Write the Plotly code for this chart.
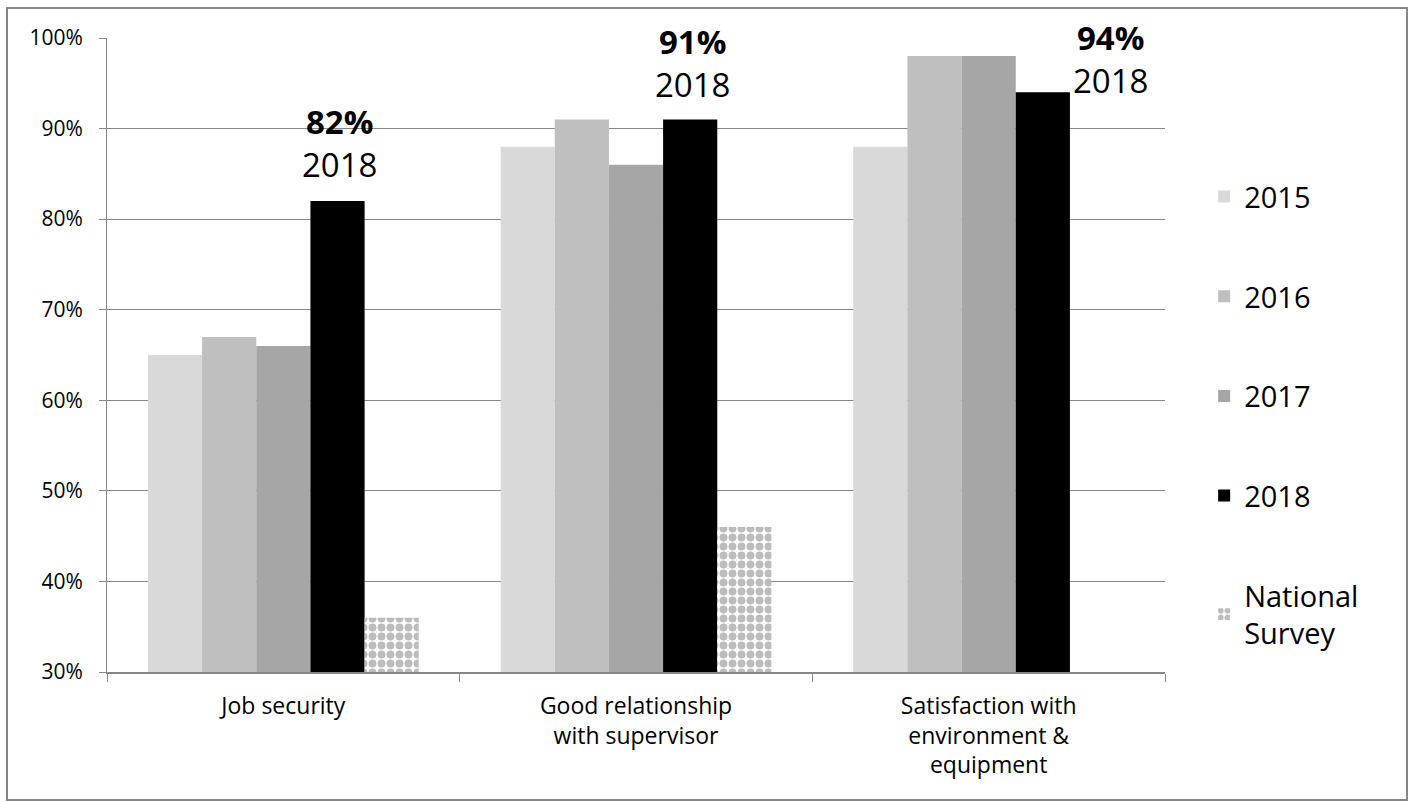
import plotly.graph_objects as go

categories = ["Job security", "Good relationship<br>with supervisor", "Satisfaction with<br>environment &<br>equipment"]
series_names = ["2015", "2016", "2017", "2018", "National<br>Survey"]
v2015 = [65, 88, 88]
v2016 = [67, 91, 98]
v2017 = [66, 86, 98]
v2018 = [82, 91, 94]
vnational = [36, 46, None]
label_values = [82, 91, 94]
label_year = "2018"
y_ticks = [30, 40, 50, 60, 70, 80, 90, 100]
y_ticktext = [f"{t}%" for t in y_ticks]

FONT = "Open Sans"
colors = ["#d9d9d9", "#bfbfbf", "#a6a6a6", "#000000"]

fig = go.Figure()
for i, (name, vals) in enumerate(zip(series_names[:4], [v2015, v2016, v2017, v2018])):
    fig.add_trace(go.Bar(x=categories, y=vals, name=name, marker_color=colors[i],
                         marker_line_width=0, legendgroup=f"g{i}"))
fig.add_trace(go.Bar(x=categories, y=vnational, name=series_names[4],
                     marker=dict(color="white", line_width=0,
                                 pattern=dict(shape=".", fgcolor="#7a7a7a", bgcolor="white",
                                              size=9, solidity=0.6)),
                     legendgroup="g4"))

# labels above the 2018 bars
xshifts = [56, 56, 122]
yshifts = [12, 11, -13]
for cat, v, xs, ys in zip(categories, label_values, xshifts, yshifts):
    fig.add_annotation(x=cat, y=v, text=f"<b>{v}%</b><br>{label_year}", showarrow=False,
                       xshift=xs, yshift=ys, yanchor="bottom",
                       font=dict(family=FONT, size=33, color="black"))

L, R, T, B = 107, 249, 38, 130
W, H = 1414, 802
pw, ph = W - L - R, H - T - B
fig.add_shape(type="rect", xref="paper", yref="paper",
              x0=(7 - L) / pw, x1=(1407 - L) / pw,
              y0=(H - B - 800) / ph, y1=(H - B - 8) / ph,
              line=dict(color="#868686", width=2), fillcolor="rgba(0,0,0,0)", layer="below")

fig.update_layout(
    width=W, height=H,
    margin=dict(l=L, r=R, t=T, b=B),
    paper_bgcolor="white", plot_bgcolor="white",
    barmode="group", bargap=0.232, bargroupgap=0,
    font=dict(family=FONT, color="black"),
    legend=dict(x=1.037, xanchor="left", y=0.79, yanchor="top",
                font=dict(size=29, family=FONT), tracegroupgap=59,
                bgcolor="rgba(0,0,0,0)"),
    showlegend=True,
)
fig.update_yaxes(range=[30, 100], tickvals=y_ticks, ticktext=y_ticktext,
                 showgrid=True, gridcolor="#878787", gridwidth=1,
                 showline=True, linecolor="#878787", linewidth=1,
                 ticks="outside", ticklen=7, tickcolor="#878787",
                 tickfont=dict(size=21, family=FONT), ticklabelstandoff=12,
                 zeroline=False)
fig.update_xaxes(showline=True, linecolor="#878787", linewidth=2,
                 ticks="outside", ticklen=8, tickcolor="#878787", tickson="boundaries",
                 tickfont=dict(size=23, family=FONT), ticklabelstandoff=12)

fig.write_html("out.html")
